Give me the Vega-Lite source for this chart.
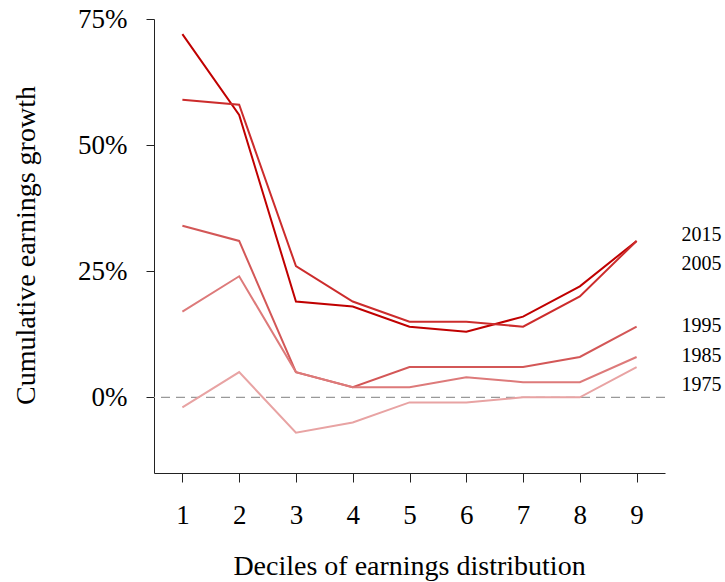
{
  "$schema": "https://vega.github.io/schema/vega-lite/v6.json",
  "width": 511,
  "height": 454,
  "autosize": "none",
  "padding": {"left": 154, "top": 19, "right": 60, "bottom": 109},
  "background": "white",
  "config": {
    "view": {"stroke": null},
    "font": "Liberation Serif",
    "axis": {"grid": false, "domainColor": "#222", "tickColor": "#222", "labelColor": "black", "titleColor": "black", "labelFont": "Liberation Serif", "titleFont": "Liberation Serif", "titleFontWeight": "normal", "labelFontSize": 27, "titleFontSize": 28, "domainWidth": 1, "tickWidth": 1}
  },
  "datasets": {
    "growth": [
      {"decile": 1, "year": "2015", "growth": 72}, {"decile": 2, "year": "2015", "growth": 56}, {"decile": 3, "year": "2015", "growth": 19}, {"decile": 4, "year": "2015", "growth": 18}, {"decile": 5, "year": "2015", "growth": 14}, {"decile": 6, "year": "2015", "growth": 13}, {"decile": 7, "year": "2015", "growth": 16}, {"decile": 8, "year": "2015", "growth": 22}, {"decile": 9, "year": "2015", "growth": 31},
      {"decile": 1, "year": "2005", "growth": 59}, {"decile": 2, "year": "2005", "growth": 58}, {"decile": 3, "year": "2005", "growth": 26}, {"decile": 4, "year": "2005", "growth": 19}, {"decile": 5, "year": "2005", "growth": 15}, {"decile": 6, "year": "2005", "growth": 15}, {"decile": 7, "year": "2005", "growth": 14}, {"decile": 8, "year": "2005", "growth": 20}, {"decile": 9, "year": "2005", "growth": 31},
      {"decile": 1, "year": "1995", "growth": 34}, {"decile": 2, "year": "1995", "growth": 31}, {"decile": 3, "year": "1995", "growth": 5}, {"decile": 4, "year": "1995", "growth": 2}, {"decile": 5, "year": "1995", "growth": 6}, {"decile": 6, "year": "1995", "growth": 6}, {"decile": 7, "year": "1995", "growth": 6}, {"decile": 8, "year": "1995", "growth": 8}, {"decile": 9, "year": "1995", "growth": 14},
      {"decile": 1, "year": "1985", "growth": 17}, {"decile": 2, "year": "1985", "growth": 24}, {"decile": 3, "year": "1985", "growth": 5}, {"decile": 4, "year": "1985", "growth": 2}, {"decile": 5, "year": "1985", "growth": 2}, {"decile": 6, "year": "1985", "growth": 4}, {"decile": 7, "year": "1985", "growth": 3}, {"decile": 8, "year": "1985", "growth": 3}, {"decile": 9, "year": "1985", "growth": 8},
      {"decile": 1, "year": "1975", "growth": -2}, {"decile": 2, "year": "1975", "growth": 5}, {"decile": 3, "year": "1975", "growth": -7}, {"decile": 4, "year": "1975", "growth": -5}, {"decile": 5, "year": "1975", "growth": -1}, {"decile": 6, "year": "1975", "growth": -1}, {"decile": 7, "year": "1975", "growth": 0}, {"decile": 8, "year": "1975", "growth": 0}, {"decile": 9, "year": "1975", "growth": 6}
    ],
    "labels": [
      {"year": "2015", "decile": 9, "label_y": 32.2},
      {"year": "2005", "decile": 9, "label_y": 26.4},
      {"year": "1995", "decile": 9, "label_y": 14.1},
      {"year": "1985", "decile": 9, "label_y": 8.2},
      {"year": "1975", "decile": 9, "label_y": 2.4}
    ]
  },
  "layer": [
    {
      "data": {"values": [{"zero": 0}]},
      "mark": {"type": "rule", "strokeDash": [9, 6], "color": "#999999", "strokeWidth": 1.2},
      "encoding": {"y": {"field": "zero", "type": "quantitative", "scale": {"domain": [-15, 75]}}}
    },
    {
      "data": {"name": "growth"},
      "mark": {"type": "line", "strokeWidth": 2, "clip": false},
      "encoding": {
        "x": {"field": "decile", "type": "quantitative", "scale": {"domain": [0.5, 9.5], "nice": false, "zero": false},
          "axis": {"values": [1, 2, 3, 4, 5, 6, 7, 8, 9], "format": "d", "tickSize": 9, "labelPadding": 20, "labelBaseline": "top", "title": "Deciles of earnings distribution", "titleX": 255, "titleY": 93, "titleBaseline": "middle", "titleAnchor": null}},
        "y": {"field": "growth", "type": "quantitative", "scale": {"domain": [-15, 75], "nice": false, "zero": false},
          "axis": {"values": [0, 25, 50, 75], "labelExpr": "datum.value + '%'", "tickSize": 8, "labelPadding": 19, "title": "Cumulative earnings growth", "titleX": -128, "titleY": 226, "titleBaseline": "middle", "titleAlign": "center", "titleAngle": -90}},
        "color": {"field": "year", "type": "nominal", "legend": null,
          "scale": {"domain": ["2015", "2005", "1995", "1985", "1975"], "range": ["#C00000", "#CC2C2C", "#D35757", "#DD7A7A", "#E8A3A3"]}},
        "order": {"field": "decile"},
        "detail": {"field": "year"}
      }
    },
    {
      "data": {"name": "labels"},
      "mark": {"type": "text", "align": "left", "baseline": "middle", "dx": 45, "fontSize": 20, "font": "Liberation Serif", "color": "black"},
      "encoding": {
        "x": {"field": "decile", "type": "quantitative"},
        "y": {"field": "label_y", "type": "quantitative"},
        "text": {"field": "year"}
      }
    }
  ]
}
